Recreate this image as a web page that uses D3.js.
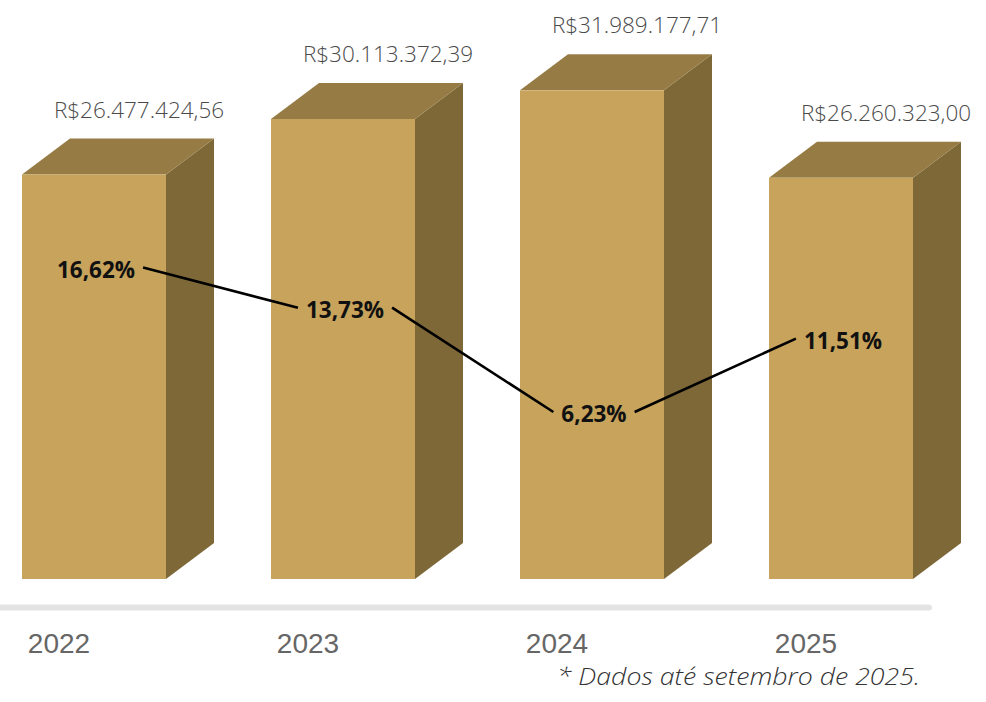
<!DOCTYPE html>
<html>
<head>
<meta charset="utf-8">
<script src="https://cdn.jsdelivr.net/npm/d3@7"></script>
<style>
  html, body { margin: 0; padding: 0; background: #fff; }
  svg { display: block; }
</style>
</head>
<body>
<svg id="chart" width="986" height="702"></svg>
<script>
// ---- data ----
const years = ["2022", "2023", "2024", "2025"];
const revenue = [26477424.56, 30113372.39, 31989177.71, 26260323.00];
const revenueLabels = ["R$26.477.424,56", "R$30.113.372,39", "R$31.989.177,71", "R$26.260.323,00"];
const growthPct = [16.62, 13.73, 6.23, 11.51];
const growthLabels = ["16,62%", "13,73%", "6,23%", "11,51%"];
const footnote = "* Dados até setembro de 2025.";

// ---- layout ----
const svg = d3.select("#chart");
const baseY = 579;
const depthX = 48, depthY = -36;
const colFront = "#C7A35B", colTop = "#967C44", colSide = "#7E6838";

const x = d3.scaleBand().domain(years).range([22, 913]).paddingInner(0.4217).paddingOuter(0);
const y = d3.scaleLinear().domain([0, 32000000]).range([baseY, 90.2]);
const yPct = d3.scaleLinear().domain([6.23, 16.62]).range([414, 269.5]);

const data = years.map((yr, i) => ({
  year: yr, value: revenue[i], label: revenueLabels[i], pct: growthPct[i], pctLabel: growthLabels[i]
}));

const bw = x.bandwidth();

// axis baseline
svg.append("line")
  .attr("x1", 0).attr("x2", 929)
  .attr("y1", 607.5).attr("y2", 607.5)
  .attr("stroke", "#e3e3e3").attr("stroke-width", 6).attr("stroke-linecap", "round");

const bars = svg.append("g").selectAll("g").data(data).join("g");

// side face
bars.append("path")
  .attr("fill", colSide)
  .attr("d", d => {
    const x0 = x(d.year) + bw, yt = y(d.value);
    return `M${x0},${yt} L${x0 + depthX},${yt + depthY} L${x0 + depthX},${baseY + depthY} L${x0},${baseY} Z`;
  });
// top face
bars.append("path")
  .attr("fill", colTop)
  .attr("d", d => {
    const x0 = x(d.year), yt = y(d.value);
    return `M${x0},${yt} L${x0 + depthX},${yt + depthY} L${x0 + bw + depthX},${yt + depthY} L${x0 + bw},${yt} Z`;
  });
// front face
bars.append("rect")
  .attr("fill", colFront)
  .attr("x", d => x(d.year))
  .attr("y", d => y(d.value))
  .attr("width", bw)
  .attr("height", d => baseY - y(d.value));

// value labels
bars.append("text")
  .attr("x", d => x(d.year) + 117)
  .attr("y", d => y(d.value) + depthY - 21)
  .attr("text-anchor", "middle")
  .attr("font-family", "'Open Sans', sans-serif")
  .attr("font-weight", 300)
  .attr("font-size", 22.5)
  .attr("fill", "#4a4a4a")
  .text(d => d.label);

// year labels
svg.append("g").selectAll("text").data(data).join("text")
  .attr("x", d => x(d.year) + 37)
  .attr("y", 653)
  .attr("text-anchor", "middle")
  .attr("font-family", "'Liberation Sans', Arial, sans-serif")
  .attr("font-size", 28)
  .attr("fill", "#666")
  .text(d => d.year);

// percentage labels
const pctG = svg.append("g");
const pctTexts = pctG.selectAll("text").data(data).join("text")
  .attr("x", d => x(d.year) + bw / 2 + 2)
  .attr("y", d => yPct(d.pct) + 8)
  .attr("text-anchor", "middle")
  .attr("font-family", "'Open Sans', sans-serif")
  .attr("font-weight", 700)
  .attr("font-size", 22.5)
  .attr("fill", "#111")
  .text(d => d.pctLabel);

const widths = [];
pctTexts.each(function () { widths.push(this.getBBox().width); });

const gap = 8;
const segs = [];
for (let i = 0; i < data.length - 1; i++) {
  const a = data[i], b = data[i + 1];
  const ax = x(a.year) + bw / 2 + 2 + widths[i] / 2 + gap;
  const bx = x(b.year) + bw / 2 + 2 - widths[i + 1] / 2 - gap;
  segs.push([[ax, yPct(a.pct) - 2], [bx, yPct(b.pct) - 2]]);
}
const line = d3.line();
pctG.insert("g", "text").selectAll("path").data(segs).join("path")
  .attr("d", d => line(d))
  .attr("fill", "none")
  .attr("stroke", "#000")
  .attr("stroke-width", 2.6);

// footnote
svg.append("text")
  .attr("x", 557)
  .attr("y", 685)
  .attr("font-family", "'Open Sans', sans-serif")
  .attr("font-style", "italic")
  .attr("font-weight", 300)
  .attr("font-size", 23)
  .attr("fill", "#333")
  .attr("textLength", 363)
  .attr("lengthAdjust", "spacingAndGlyphs")
  .text(footnote);
</script>
</body>
</html>
